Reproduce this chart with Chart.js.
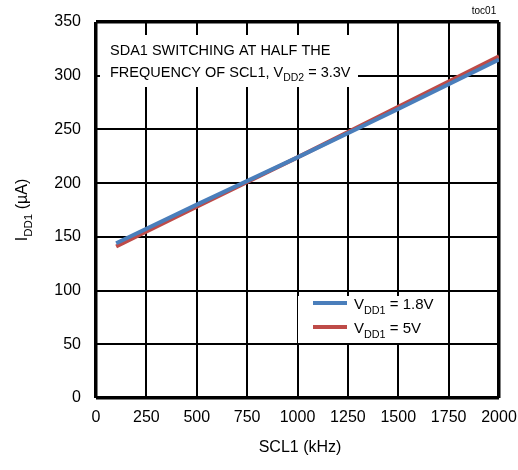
<!DOCTYPE html>
<html>
<head>
<meta charset="utf-8">
<script src="https://cdn.jsdelivr.net/npm/chart.js"></script>
<style>
  body { margin: 0; background: #fff; }
  #wrap { width: 518px; height: 470px; }
</style>
</head>
<body>
<div id="wrap"><canvas id="myChart" width="518" height="470"></canvas></div>
<script>
const freq = [100, 500, 1000, 1500, 2000]
const idd18 = [144, 180, 224, 269, 315]
const idd5 = [141, 178, 224, 271, 318]
const xTicks = [0, 250, 500, 750, 1000, 1250, 1500, 1750, 2000]
const yTicks = [0, 50, 100, 150, 200, 250, 300, 350]

const FONT = 'Liberation Sans, Arial, sans-serif'

// draws "main" + subscript + rest starting at x
function subText(c, x, y, parts, size) {
    let cx = x
    parts.forEach(p => {
        if (p.sub) {
            c.font = (size * 0.72) + 'px ' + FONT
            c.fillText(p.t, cx, y + size * 0.3)
        } else {
            c.font = size + 'px ' + FONT
            c.fillText(p.t, cx, y)
        }
        cx += c.measureText(p.t).width
    })
}

const extras = {
    id: 'extras',
    afterDraw(chart) {
        const c = chart.ctx
        c.save()
        c.fillStyle = '#000'
        c.textBaseline = 'alphabetic'
        c.textAlign = 'left'

        // note box
        c.fillStyle = '#fff'
        c.fillRect(100, 35, 258, 52)
        c.fillStyle = '#000'
        subText(c, 110, 55, [{t: 'SDA1 SWITCHING AT HALF THE'}], 14.5)
        subText(c, 110, 77, [{t: 'FREQUENCY OF SCL1, V'}, {t: 'DD2', sub: true}, {t: ' = 3.3V'}], 14.5)

        // legend
        c.fillStyle = '#fff'
        c.fillRect(298, 296, 149, 47)
        c.lineWidth = 4
        c.strokeStyle = '#4a7ebb'
        c.beginPath(); c.moveTo(313, 303); c.lineTo(347, 303); c.stroke()
        c.strokeStyle = '#be4b48'
        c.beginPath(); c.moveTo(313, 327); c.lineTo(347, 327); c.stroke()
        c.fillStyle = '#000'
        subText(c, 354, 309, [{t: 'V'}, {t: 'DD1', sub: true}, {t: ' = 1.8V'}], 15)
        subText(c, 354, 333, [{t: 'V'}, {t: 'DD1', sub: true}, {t: ' = 5V'}], 15)

        // x title
        c.textAlign = 'center'
        c.font = '16px ' + FONT
        c.fillText('SCL1 (kHz)', 300, 452)

        // toc
        c.font = '10px ' + FONT
        c.fillText('toc01', 484, 14)

        // y title
        c.translate(27, 210)
        c.rotate(-Math.PI / 2)
        c.textAlign = 'left'
        const parts = [{t: 'I'}, {t: 'DD1', sub: true}, {t: ' (\u00b5A)'}]
        let w = 0
        parts.forEach(p => { c.font = (p.sub ? 16 * 0.72 : 16) + 'px ' + FONT; w += c.measureText(p.t).width })
        subText(c, -w / 2, 0, parts, 16)
        c.restore()
    }
}

const ctx = document.getElementById('myChart').getContext('2d')
const myChart = new Chart(ctx, {
    type: 'line',
    data: {
        datasets: [{
            label: 'VDD1 = 1.8V',
            data: freq.map((f, i) => ({x: f, y: idd18[i]})),
            borderColor: '#4a7ebb',
            borderWidth: 4,
            pointRadius: 0,
            tension: 0
        }, {
            label: 'VDD1 = 5V',
            data: freq.map((f, i) => ({x: f, y: idd5[i]})),
            borderColor: '#be4b48',
            borderWidth: 4,
            pointRadius: 0,
            tension: 0
        }]
    },
    options: {
        responsive: false,
        animation: false,
        layout: { padding: { left: 0, right: 19, top: 22, bottom: 0 } },
        plugins: { legend: { display: false }, tooltip: { enabled: false } },
        scales: {
            x: {
                type: 'linear',
                min: 0, max: 2000,
                afterBuildTicks: s => { s.ticks = xTicks.map(v => ({value: v})) },
                afterFit: s => { s.height = 72; s.paddingLeft = 0; s.paddingRight = 0 },
                border: { display: false },
                grid: {
                    color: '#000',
                    lineWidth: c => (c.tick && (c.tick.value === 0 || c.tick.value === 2000)) ? 3.5 : 2,
                    drawTicks: false
                },
                ticks: { color: '#000', font: { family: FONT, size: 16 }, padding: 10, maxRotation: 0,
                    callback: v => String(v) }
            },
            y: {
                min: 0, max: 350,
                afterBuildTicks: s => { s.ticks = yTicks.map(v => ({value: v})) },
                afterFit: s => { s.width = 96; s.paddingTop = 0; s.paddingBottom = 0 },
                border: { display: false },
                grid: {
                    color: '#000',
                    lineWidth: c => (c.tick && (c.tick.value === 0 || c.tick.value === 350)) ? 3.5 : 2,
                    drawTicks: false
                },
                ticks: { color: '#000', font: { family: FONT, size: 16 }, padding: 15 }
            }
        }
    },
    plugins: [extras]
})
</script>
</body>
</html>
